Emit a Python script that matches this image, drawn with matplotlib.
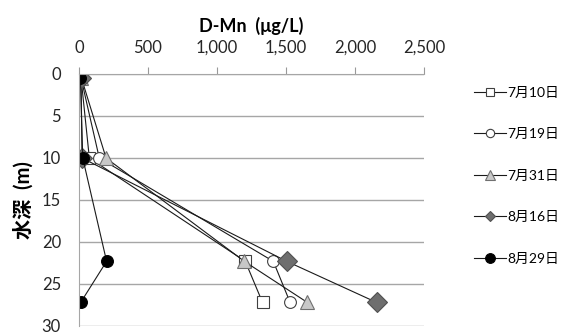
import matplotlib
matplotlib.use("Agg")
import matplotlib.pyplot as plt

plt.rcParams['font.family'] = ['Lato', 'Noto Sans CJK JP', 'DejaVu Sans']

# Sampling depths (m) and dissolved manganese (µg/L) per survey date
depth = [0.5, 10, 22.3, 27.2]
labels = ["7月10日", "7月19日", "7月31日", "8月16日", "8月29日"]
mn_0710 = [15, 75, 1205, 1330]
mn_0719 = [15, 147, 1408, 1530]
mn_0731 = [18, 196, 1198, 1655]
mn_0816 = [15, 22, 1505, 2157]
mn_0829 = [10, 27, 200, 12]
x_ticks = [0, 500, 1000, 1500, 2000, 2500]
x_ticklabels = ["0", "500", "1,000", "1,500", "2,000", "2,500"]
y_ticks = [0, 5, 10, 15, 20, 25, 30]

series = [mn_0710, mn_0719, mn_0731, mn_0816, mn_0829]
styles = [
    dict(marker='s', mfc='white', mec='#404040', ms=8),
    dict(marker='o', mfc='white', mec='#404040', ms=8.5),
    dict(marker='^', mfc='#c8c8c8', mec='#707070', ms=10),
    dict(marker='D', mfc='#6e6e6e', mec='#505050', ms=10),
    dict(marker='o', mfc='black', mec='black', ms=8.5),
]
legend_ms = [6, 6, 6.5, 5, 7]

fig = plt.figure(figsize=(5.63, 3.34), dpi=100)
ax = fig.add_axes([79/563, 1 - 326/334, (424 - 79)/563, (326 - 74)/334])

for vals, lab, st in zip(series, labels, styles):
    ax.plot(vals, depth, color='#1a1a1a', lw=0.8, label=lab, mew=0.8, **st)

ax.set_xlim(0, 2500)
ax.set_ylim(30, 0)
ax.set_xticks(x_ticks)
ax.set_xticklabels(x_ticklabels)
ax.set_yticks(y_ticks)
ax.xaxis.tick_top()
ax.xaxis.set_label_position('top')
ax.tick_params(axis='x', direction='out', length=5, color='#999999', labelsize=12, pad=8)
ax.tick_params(axis='y', length=0, labelsize=12, pad=13)
for lbl in ax.get_xticklabels() + ax.get_yticklabels():
    lbl.set_color('#262626')

ax.grid(axis='y', color='#a6a6a6', lw=1)
ax.set_axisbelow(True)
for side in ['right', 'bottom']:
    ax.spines[side].set_visible(False)
ax.spines['top'].set_color('#a6a6a6')
ax.spines['left'].set_color('#a6a6a6')

ax.set_xlabel("D-Mn  (μg/L)", fontsize=13, fontweight='bold', labelpad=6)
ax.set_ylabel("水深  (m)", fontsize=14.5, fontweight='bold', labelpad=6)

leg = fig.legend(loc='upper left', bbox_to_anchor=(468/563, 1 - 81/334),
                 frameon=False, fontsize=10, handlelength=2.3,
                 labelspacing=2.12, handletextpad=0.15, borderaxespad=0)
for h, ms in zip(leg.legend_handles, legend_ms):
    h.set_markersize(ms)

fig.savefig("out.png", dpi=100)
